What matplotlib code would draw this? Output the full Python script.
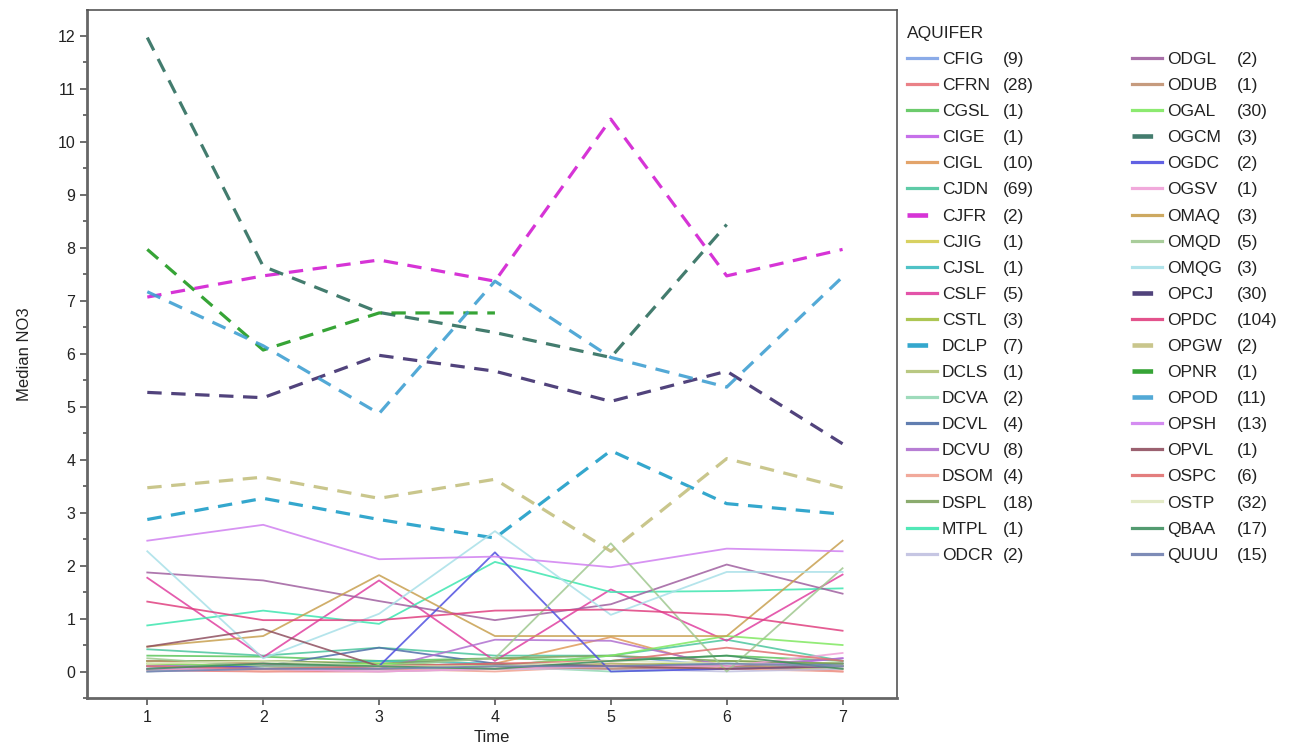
import numpy as np
import matplotlib
matplotlib.use("Agg")
import matplotlib.pyplot as plt

plt.rcParams['font.family'] = ['Liberation Sans', 'DejaVu Sans']

nan = np.nan

# --- data --- #
time = [1, 2, 3, 4, 5, 6, 7]

aquifers = ['CFIG', 'CFRN', 'CGSL', 'CIGE', 'CIGL', 'CJDN', 'CJFR', 'CJIG', 'CJSL', 'CSLF',
            'CSTL', 'DCLP', 'DCLS', 'DCVA', 'DCVL', 'DCVU', 'DSOM', 'DSPL', 'MTPL', 'ODCR',
            'ODGL', 'ODUB', 'OGAL', 'OGCM', 'OGDC', 'OGSV', 'OMAQ', 'OMQD', 'OMQG', 'OPCJ',
            'OPDC', 'OPGW', 'OPNR', 'OPOD', 'OPSH', 'OPVL', 'OSPC', 'OSTP', 'QBAA', 'QUUU']

counts = [9, 28, 1, 1, 10, 69, 2, 1, 1, 5,
          3, 7, 1, 2, 4, 8, 4, 18, 1, 2,
          2, 1, 30, 3, 2, 1, 3, 5, 3, 30,
          104, 2, 1, 11, 13, 1, 6, 32, 17, 15]

colors = ['#7fa2e6', '#e8737a', '#5cc65c', '#c060e8', '#e09a5a', '#4cc69e', '#d21ed2', '#d4cc50',
          '#3cbcc0', '#e040a0', '#a4c040', '#1e9ec8', '#b2c274', '#94d8b4', '#5070a8', '#b070d0',
          '#f0a090', '#7ea25e', '#3ee6b0', '#c0c0e0',
          '#a060a0', '#c09070', '#80e860', '#2e6e5e', '#5050e0', '#f0a0d8', '#c8a050', '#a0c890',
          '#a8e0e8', '#3e2e6e', '#e04080', '#c4c080', '#209a20', '#40a0d2', '#d080f0', '#905060',
          '#e07070', '#e0e8c0', '#409060', '#7080b0']

dashed = ['CJFR', 'DCLP', 'OGCM', 'OPCJ', 'OPGW', 'OPNR', 'OPOD']

# median NO3 per aquifer, one row per aquifer in the order above
median_no3 = [
    [0.05, 0.10, 0.05, 0.10, 0.30, 0.10, 0.15],   # CFIG
    [0.02, 0.00, 0.00, 0.05, 0.15, 0.10, 0.00],   # CFRN
    [0.30, 0.28, 0.20, 0.25, 0.20, 0.30, 0.20],   # CGSL
    [0.10, 0.05, 0.05, 0.10, 0.05, 0.05, 0.25],   # CIGE
    [0.15, 0.10, 0.05, 0.15, 0.65, 0.05, 0.05],   # CIGL
    [0.42, 0.30, 0.45, 0.30, 0.30, 0.60, 0.20],   # CJDN
    [7.07, 7.47, 7.77, 7.37, 10.43, 7.47, 7.97],  # CJFR
    [0.20, 0.20, 0.15, 0.10, 0.10, 0.05, 0.10],   # CJIG
    [0.10, 0.10, 0.20, 0.15, 0.10, 0.15, 0.10],   # CJSL
    [1.77, 0.27, 1.72, 0.20, 1.55, 0.58, 1.83],   # CSLF
    [0.20, 0.15, 0.10, 0.05, 0.10, 0.20, 0.15],   # CSTL
    [2.87, 3.27, 2.87, 2.52, 4.17, 3.17, 2.97],   # DCLP
    [0.10, 0.05, 0.10, 0.05, 0.15, 0.10, 0.05],   # DCLS
    [0.00, 0.10, 0.05, 0.10, 0.00, 0.05, 0.10],   # DCVA
    [0.05, 0.10, 0.45, 0.15, 0.10, 0.10, 0.15],   # DCVL
    [0.10, 0.15, 0.05, 0.60, 0.58, 0.10, 0.25],   # DCVU
    [0.05, 0.00, 0.05, 0.00, 0.10, 0.05, 0.00],   # DSOM
    [0.20, 0.20, 0.15, 0.25, 0.30, 0.20, 0.15],   # DSPL
    [0.87, 1.15, 0.90, 2.07, 1.50, 1.52, 1.57],   # MTPL
    [0.00, 0.05, 0.00, 0.05, 0.05, 0.00, 0.05],   # ODCR
    [1.87, 1.72, 1.33, 0.97, 1.27, 2.02, 1.47],   # ODGL
    [0.20, 0.15, 0.10, 0.10, 0.05, 0.10, 0.10],   # ODUB
    [0.15, 0.10, 0.15, 0.10, 0.30, 0.67, 0.50],   # OGAL
    [11.97, 7.65, 6.78, 6.40, 5.93, 8.44, nan],   # OGCM
    [0.05, 0.10, 0.10, 2.25, 0.00, 0.05, 0.10],   # OGDC
    [0.05, 0.05, 0.00, 0.05, 0.10, 0.10, 0.35],   # OGSV
    [0.47, 0.67, 1.82, 0.67, 0.67, 0.67, 2.47],   # OMAQ
    [0.25, 0.10, 0.10, 0.25, 2.42, 0.00, 1.95],   # OMQD
    [2.27, 0.25, 1.09, 2.65, 1.07, 1.88, 1.88],   # OMQG
    [5.27, 5.17, 5.97, 5.67, 5.10, 5.67, 4.30],   # OPCJ
    [1.32, 0.97, 0.97, 1.15, 1.17, 1.07, 0.77],   # OPDC
    [3.47, 3.67, 3.27, 3.63, 2.27, 4.02, 3.47],   # OPGW
    [7.97, 6.07, 6.77, 6.77, nan, nan, nan],      # OPNR
    [7.17, 6.15, 4.87, 7.37, 5.93, 5.37, 7.45],   # OPOD
    [2.47, 2.77, 2.12, 2.17, 1.97, 2.32, 2.27],   # OPSH
    [0.47, 0.80, 0.10, 0.15, 0.10, 0.05, 0.10],   # OPVL
    [0.10, 0.05, 0.10, 0.15, 0.20, 0.45, 0.20],   # OSPC
    [0.15, 0.20, 0.10, 0.10, 0.20, 0.15, 0.10],   # OSTP
    [0.05, 0.15, 0.10, 0.05, 0.20, 0.30, 0.05],   # QBAA
    [0.00, 0.05, 0.05, 0.10, 0.10, 0.15, 0.10],   # QUUU
]

# --- figure --- #
fig = plt.figure(figsize=(13.01, 7.47), dpi=100)
ax = fig.add_axes([0.0669, 0.0656, 0.6226, 0.921])

handles = []
for name, col, vals in zip(aquifers, colors, median_no3):
    if name in dashed:
        line, = ax.plot(time, vals, color=col, lw=2.3, dashes=(4.5, 3.0), alpha=0.9)
    else:
        line, = ax.plot(time, vals, color=col, lw=1.3, alpha=0.85)
    handles.append(line)

ax.set_xlim(0.48, 7.47)
ax.set_ylim(-0.47, 12.49)
ax.set_xticks(time)
ax.set_yticks(range(0, 13))
ax.set_yticks(np.arange(-0.5, 12.5, 0.5), minor=True)
ax.tick_params(axis='both', which='major', direction='out', length=5, width=1.2,
               color='#555555', labelsize=11.5, labelcolor='#222222')
ax.tick_params(axis='y', which='minor', direction='out', length=3, width=1.2, color='#555555')
for side in ['left', 'bottom']:
    ax.spines[side].set_linewidth(2.0)
    ax.spines[side].set_color('#666666')
for side in ['top', 'right']:
    ax.spines[side].set_linewidth(1.2)
    ax.spines[side].set_color('#555555')

ax.set_xlabel('Time', fontsize=12, color='#222222', labelpad=4)
ax.set_ylabel('Median NO3', fontsize=12, color='#222222', labelpad=18)

# --- legend in two columns, counts added beside the names --- #
half = 20
fs = 12.5
common = dict(loc='upper left', bbox_transform=fig.transFigure, frameon=False,
              fontsize=fs, title_fontsize=fs, handlelength=1.75, handletextpad=0.25,
              labelspacing=0.63, borderaxespad=0, alignment='left')
leg1 = ax.legend(handles[:half], aquifers[:half], title='AQUIFER',
                 bbox_to_anchor=(900 / 1301, 1 - 19 / 747), **common)
ax.add_artist(leg1)
leg2 = ax.legend(handles[half:], aquifers[half:], title=' ',
                 bbox_to_anchor=(1125 / 1301, 1 - 19 / 747), **common)
for leg in (leg1, leg2):
    for t in leg.get_texts():
        t.set_color('#222222')
    for h in leg.legend_handles:
        h.set_linewidth(h.get_linewidth() + 1.0)
        h.set_alpha(0.9)
leg1.get_title().set_color('#222222')

fig.canvas.draw()
renderer = fig.canvas.get_renderer()
inv = fig.transFigure.inverted()
for leg, xcount, cnts in ((leg1, 1003, counts[:half]), (leg2, 1237, counts[half:])):
    for t, c in zip(leg.get_texts(), cnts):
        bb = t.get_window_extent(renderer)
        y = inv.transform((0, (bb.y0 + bb.y1) / 2))[1]
        fig.text(xcount / 1301, y, f'({c})', fontsize=fs, color='#222222', va='center')

fig.savefig('out.png', dpi=100)
